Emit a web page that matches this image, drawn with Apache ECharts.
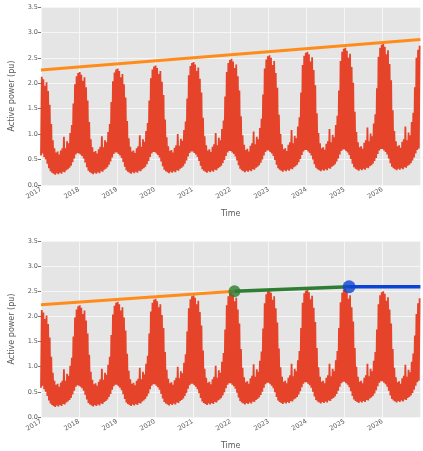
<!DOCTYPE html>
<html>
<head>
<meta charset="utf-8">
<script src="https://cdn.jsdelivr.net/npm/echarts@6/dist/echarts.min.js"></script>
<style>
html,body{margin:0;padding:0;background:#fff;}
#chart{width:423px;height:451px;}
</style>
</head>
<body>
<div id="chart"></div>
<script>
// ---- data ----
const years = [2017, 2018, 2019, 2020, 2021, 2022, 2023, 2024, 2025, 2026];
const yTicks = ['0.0', '0.5', '1.0', '1.5', '2.0', '2.5', '3.0', '3.5'];

// half-month upper envelope (24 per year) - top panel
const hi2017 = [2.13, 2.08, 1.95, 2.02, 1.85, 1.58, 1.20, 0.88, 0.72, 0.64, 0.66, 0.60, 0.68, 0.72, 0.95, 0.72, 0.86, 0.82, 1.02, 1.18, 1.60, 1.98, 2.14, 2.20];
const hi2018 = [2.22, 2.17, 2.05, 2.12, 1.92, 1.66, 1.24, 0.90, 0.74, 0.65, 0.67, 0.62, 0.70, 0.75, 0.96, 0.74, 0.88, 0.84, 1.04, 1.20, 1.63, 2.04, 2.21, 2.27];
const hi2019 = [2.29, 2.24, 2.12, 2.18, 1.98, 1.72, 1.26, 0.92, 0.75, 0.66, 0.68, 0.63, 0.72, 0.76, 0.98, 0.75, 0.90, 0.85, 1.06, 1.22, 1.66, 2.10, 2.27, 2.33];
const hi2020 = [2.35, 2.30, 2.18, 2.24, 2.03, 1.77, 1.29, 0.94, 0.76, 0.67, 0.69, 0.64, 0.73, 0.78, 1.00, 0.77, 0.91, 0.87, 1.08, 1.25, 1.70, 2.16, 2.34, 2.40];
const hi2021 = [2.42, 2.37, 2.24, 2.31, 2.09, 1.82, 1.32, 0.96, 0.78, 0.68, 0.70, 0.65, 0.75, 0.80, 1.02, 0.78, 0.93, 0.88, 1.10, 1.27, 1.74, 2.22, 2.40, 2.46];
const hi2022 = [2.48, 2.43, 2.30, 2.37, 2.14, 1.86, 1.35, 0.98, 0.79, 0.69, 0.71, 0.66, 0.77, 0.82, 1.05, 0.80, 0.95, 0.90, 1.12, 1.30, 1.78, 2.29, 2.47, 2.53];
const hi2023 = [2.55, 2.50, 2.36, 2.44, 2.20, 1.91, 1.38, 1.00, 0.80, 0.70, 0.72, 0.67, 0.79, 0.84, 1.08, 0.82, 0.97, 0.92, 1.15, 1.33, 1.82, 2.36, 2.54, 2.60];
const hi2024 = [2.62, 2.57, 2.43, 2.51, 2.26, 1.96, 1.41, 1.02, 0.82, 0.72, 0.74, 0.69, 0.81, 0.86, 1.10, 0.84, 0.99, 0.94, 1.18, 1.36, 1.86, 2.44, 2.62, 2.68];
const hi2025 = [2.70, 2.64, 2.50, 2.58, 2.32, 2.01, 1.44, 1.04, 0.84, 0.74, 0.76, 0.71, 0.83, 0.88, 1.13, 0.86, 1.01, 0.96, 1.21, 1.39, 1.90, 2.52, 2.70, 2.76];
const hi2026 = [2.78, 2.72, 2.57, 2.65, 2.38, 2.06, 1.47, 1.06, 0.86, 0.76, 0.78, 0.73, 0.85, 0.90, 1.15, 0.88, 1.03, 0.98, 1.24, 1.42, 1.92, 2.50, 2.66, 2.74];

// half-month lower envelope (24 per year)
const lo2017 = [0.58, 0.62, 0.55, 0.50, 0.42, 0.33, 0.27, 0.24, 0.22, 0.20, 0.23, 0.21, 0.24, 0.22, 0.26, 0.25, 0.29, 0.31, 0.34, 0.38, 0.45, 0.52, 0.60, 0.63];
const lo2018 = [0.62, 0.60, 0.57, 0.52, 0.44, 0.35, 0.28, 0.25, 0.23, 0.21, 0.24, 0.22, 0.25, 0.23, 0.27, 0.26, 0.30, 0.32, 0.35, 0.40, 0.46, 0.54, 0.61, 0.64];
const lo2019 = [0.64, 0.61, 0.58, 0.53, 0.45, 0.36, 0.29, 0.26, 0.24, 0.22, 0.25, 0.23, 0.26, 0.24, 0.28, 0.27, 0.31, 0.33, 0.36, 0.41, 0.47, 0.55, 0.62, 0.65];
const lo2020 = [0.65, 0.62, 0.59, 0.54, 0.46, 0.37, 0.30, 0.27, 0.25, 0.23, 0.26, 0.24, 0.27, 0.25, 0.29, 0.28, 0.32, 0.34, 0.37, 0.42, 0.48, 0.56, 0.63, 0.66];
const lo2021 = [0.66, 0.63, 0.60, 0.55, 0.47, 0.38, 0.31, 0.28, 0.26, 0.24, 0.27, 0.25, 0.28, 0.26, 0.30, 0.29, 0.33, 0.35, 0.38, 0.43, 0.49, 0.57, 0.64, 0.67];
const lo2022 = [0.67, 0.64, 0.61, 0.56, 0.48, 0.39, 0.32, 0.29, 0.27, 0.25, 0.28, 0.26, 0.29, 0.27, 0.31, 0.30, 0.34, 0.36, 0.39, 0.44, 0.50, 0.58, 0.65, 0.68];
const lo2023 = [0.68, 0.65, 0.62, 0.57, 0.49, 0.40, 0.33, 0.30, 0.28, 0.26, 0.29, 0.27, 0.30, 0.28, 0.32, 0.31, 0.35, 0.37, 0.40, 0.45, 0.51, 0.59, 0.66, 0.69];
const lo2024 = [0.69, 0.66, 0.63, 0.58, 0.50, 0.41, 0.34, 0.31, 0.29, 0.27, 0.30, 0.28, 0.31, 0.29, 0.33, 0.32, 0.36, 0.38, 0.41, 0.46, 0.52, 0.60, 0.67, 0.70];
const lo2025 = [0.70, 0.67, 0.64, 0.59, 0.51, 0.42, 0.35, 0.32, 0.30, 0.28, 0.31, 0.29, 0.32, 0.30, 0.34, 0.33, 0.37, 0.39, 0.42, 0.47, 0.53, 0.61, 0.68, 0.71];
const lo2026 = [0.71, 0.68, 0.65, 0.60, 0.52, 0.43, 0.36, 0.33, 0.31, 0.29, 0.32, 0.30, 0.33, 0.31, 0.35, 0.34, 0.38, 0.40, 0.43, 0.48, 0.54, 0.62, 0.69, 0.72];

// bottom panel upper envelope for 2022-2026 (flattened peaks)
const hiB2022 = [2.48, 2.43, 2.30, 2.37, 2.14, 1.86, 1.35, 0.98, 0.79, 0.69, 0.71, 0.66, 0.77, 0.82, 1.05, 0.80, 0.95, 0.90, 1.12, 1.30, 1.76, 2.26, 2.44, 2.50];
const hiB2023 = [2.52, 2.47, 2.33, 2.40, 2.16, 1.88, 1.36, 0.99, 0.80, 0.70, 0.72, 0.67, 0.78, 0.83, 1.06, 0.81, 0.96, 0.91, 1.13, 1.31, 1.77, 2.27, 2.46, 2.51];
const hiB2024 = [2.53, 2.48, 2.34, 2.41, 2.17, 1.89, 1.37, 0.99, 0.80, 0.70, 0.72, 0.67, 0.78, 0.83, 1.06, 0.81, 0.96, 0.91, 1.13, 1.31, 1.77, 2.28, 2.47, 2.53];
const hiB2025 = [2.55, 2.49, 2.35, 2.42, 2.18, 1.90, 1.37, 1.00, 0.80, 0.70, 0.72, 0.67, 0.78, 0.83, 1.06, 0.81, 0.96, 0.91, 1.12, 1.29, 1.74, 2.24, 2.42, 2.48];
const hiB2026 = [2.50, 2.45, 2.31, 2.38, 2.14, 1.86, 1.35, 0.98, 0.79, 0.69, 0.71, 0.66, 0.77, 0.82, 1.04, 0.80, 0.94, 0.89, 1.10, 1.26, 1.62, 2.05, 2.26, 2.36];

// trend lines [x(year), y]
const trendTop = [[2017.0, 2.26], [2027.0, 2.86]];
const trendB1 = [[2017.0, 2.23], [2022.1, 2.50]];
const trendB2 = [[2022.1, 2.50], [2025.12, 2.59]];
const trendB3 = [[2025.12, 2.59], [2027.0, 2.59]];
const markerGreen = [[2022.1, 2.50]];
const markerBlue = [[2025.12, 2.59]];

// ---- build ----
const hiTop = [hi2017, hi2018, hi2019, hi2020, hi2021, hi2022, hi2023, hi2024, hi2025, hi2026];
const hiBot = [hi2017, hi2018, hi2019, hi2020, hi2021, hiB2022, hiB2023, hiB2024, hiB2025, hiB2026];
const loAll = [lo2017, lo2018, lo2019, lo2020, lo2021, lo2022, lo2023, lo2024, lo2025, lo2026];

function zigzag(hiArrs) {
  const out = [];
  years.forEach((y, i) => {
    const hi = hiArrs[i], lo = loAll[i];
    for (let k = 0; k < 24; k++) {
      out.push([y + k / 24, lo[k]]);
      out.push([y + (k + 0.5) / 24, hi[k]]);
    }
  });
  return out;
}

const RED = '#e5432a';
const txt = '#5a5a5a';

function xAxis(gi) {
  return {
    type: 'value', gridIndex: gi, min: 2017, max: 2027, interval: 1,
    name: 'Time', nameLocation: 'middle', nameGap: 25,
    nameTextStyle: { color: txt, fontSize: 8, fontFamily: 'DejaVu Sans' },
    axisLine: { show: false }, axisTick: { show: false },
    axisLabel: {
      rotate: 30, fontSize: 6.5, color: txt, margin: 4, fontFamily: 'DejaVu Sans',
      formatter: v => (v >= 2027 ? '' : String(v))
    },
    splitLine: { show: true, lineStyle: { color: '#f6f6f6', width: 1 } }
  };
}
function yAxis(gi) {
  return {
    type: 'value', gridIndex: gi, min: 0, max: 3.5, interval: 0.5,
    name: 'Active power (pu)', nameLocation: 'middle', nameGap: 25, nameRotate: 90,
    nameTextStyle: { color: txt, fontSize: 8, fontFamily: 'DejaVu Sans' },
    axisLine: { show: false },
    axisTick: { show: true, length: 3, lineStyle: { color: '#777' } },
    axisLabel: {
      fontSize: 6.5, color: txt, margin: 3, fontFamily: 'DejaVu Sans',
      formatter: v => yTicks[Math.round(v / 0.5)]
    },
    splitLine: { show: true, lineStyle: { color: '#f6f6f6', width: 1 } }
  };
}

function redSeries(gi, data) {
  return {
    type: 'line', xAxisIndex: gi, yAxisIndex: gi, data: data,
    showSymbol: false, symbol: 'none', animation: false,
    lineStyle: { color: RED, width: 1.8, join: 'miter' }, z: 2
  };
}
function trend(gi, data, color, w) {
  return {
    type: 'line', xAxisIndex: gi, yAxisIndex: gi, data: data,
    symbol: 'none', animation: false,
    lineStyle: { color: color, width: w }, z: 3
  };
}
function marker(gi, data, color, size) {
  return {
    type: 'scatter', xAxisIndex: gi, yAxisIndex: gi, data: data,
    symbol: 'circle', symbolSize: size, animation: false,
    itemStyle: { color: color }, z: 4
  };
}

const chart = echarts.init(document.getElementById('chart'), null, { renderer: 'canvas' });
chart.setOption({
  animation: false,
  backgroundColor: '#ffffff',
  grid: [
    { left: 40, top: 7, width: 383, height: 178, show: true, backgroundColor: '#e5e5e5', borderWidth: 0 },
    { left: 40, top: 241, width: 383, height: 181, show: true, backgroundColor: '#e5e5e5', borderWidth: 0 }
  ],
  xAxis: [xAxis(0), xAxis(1)],
  yAxis: [yAxis(0), yAxis(1)],
  series: [
    redSeries(0, zigzag(hiTop)),
    trend(0, trendTop, '#ff8c1a', 3),
    redSeries(1, zigzag(hiBot)),
    trend(1, trendB1, '#ff8c1a', 3),
    trend(1, trendB2, '#2e7d32', 3.5),
    trend(1, trendB3, '#0b43d6', 3.5),
    marker(1, markerGreen, '#2e7d32', 12),
    marker(1, markerBlue, '#0b43d6', 13)
  ]
});
</script>
</body>
</html>
